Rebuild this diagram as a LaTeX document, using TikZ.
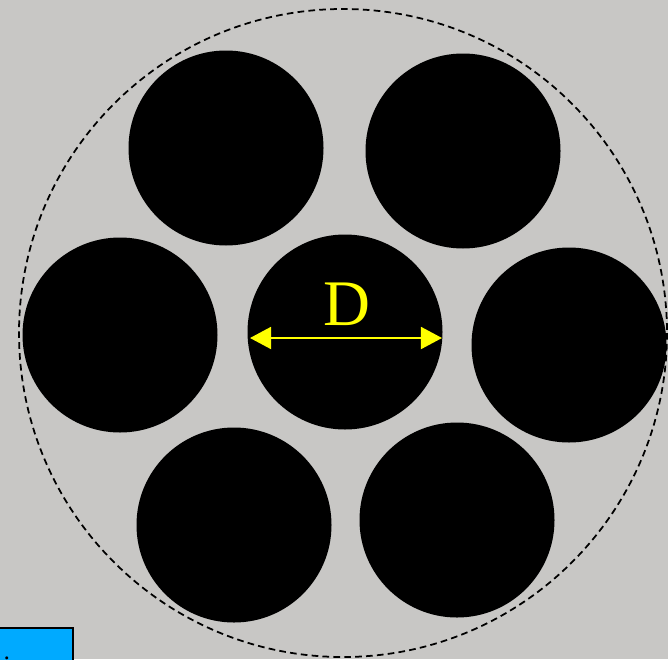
\documentclass[tikz,border=0pt]{standalone}
\usepackage{fontspec}
\setmainfont{Liberation Serif}
\usetikzlibrary{arrows.meta}
\definecolor{bggray}{RGB}{200,199,197}
\definecolor{boxblue}{RGB}{0,170,255}
\definecolor{dimyellow}{RGB}{255,255,0}
\begin{document}
\begin{tikzpicture}[x=0.02cm,y=-0.02cm]
% ====================
% Backdrop and frame of the picture
\fill[bggray] (0,0) rectangle (668,659);
\useasboundingbox (0,0) rectangle (668,659);
\clip (0,0) rectangle (668,659);
% ====================
% Dashed circle enclosing the bundle
\draw[dash pattern=on 3.8pt off 2.4pt, line width=1pt] (343,333) circle [radius=324];
% ====================
% Seven black rods of diameter D
\foreach \cx/\cy in {226/148, 463/151, 120/335, 345/332, 569/345, 234/525, 457/520}
  \fill[black] (\cx,\cy) circle [radius=97.5];
% ====================
% Diameter arrow across the central rod
\coordinate (dleft) at (250,338);
\coordinate (dright) at (442,338);
\draw[dimyellow, line width=1.2pt, {Triangle[length=12pt,width=12.5pt]}-{Triangle[length=12pt,width=12.5pt]}] (dleft) -- (dright);
\node[dimyellow, font=\fontsize{37}{40}\selectfont] (dlabel) at (347,304) {D};
% ====================
% Blue box in the lower left corner, mostly cut off
\draw[fill=boxblue, line width=0.9pt] (-5,628) rectangle (73,680);
\node[anchor=base, font=\fontsize{16}{18}\selectfont] (boxtext) at (7,675) {i};
\end{tikzpicture}
\end{document}
